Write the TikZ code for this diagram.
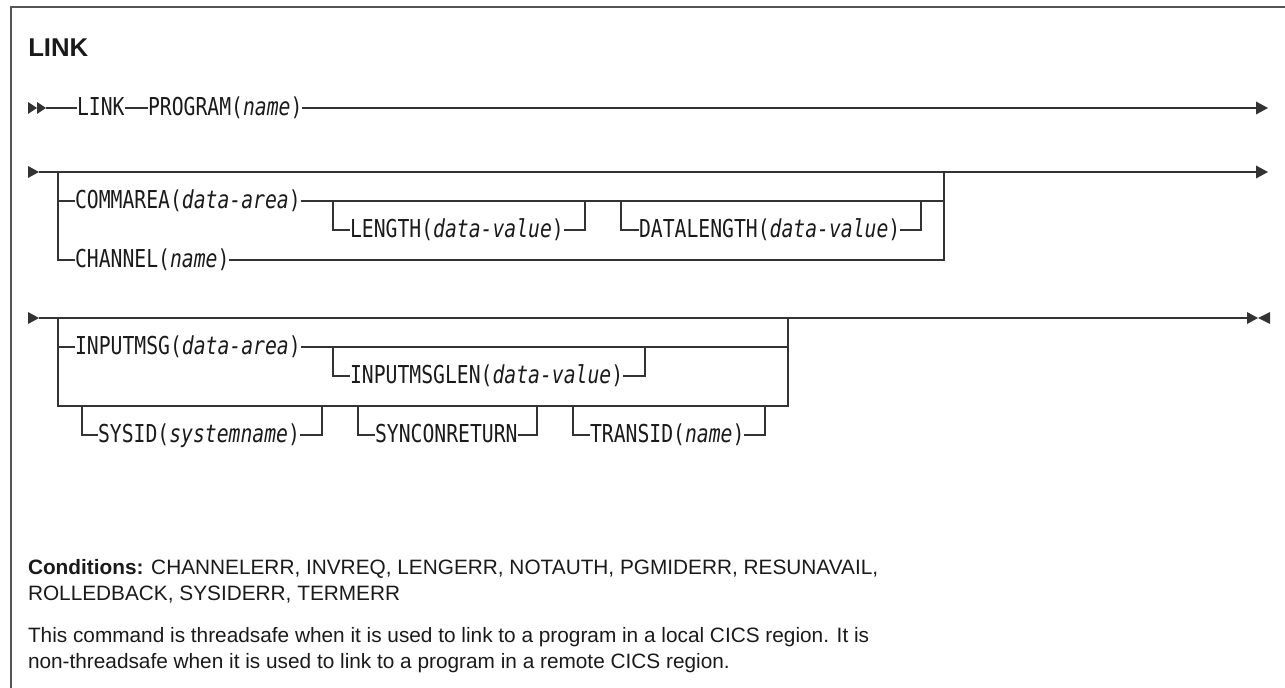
\documentclass[tikz,border=0pt]{standalone}
\usepackage{fontspec}
\setmainfont{Liberation Sans}
\newfontfamily\synfont[FakeStretch=0.80]{DejaVu Sans Mono}
\definecolor{lnc}{HTML}{333333}
\definecolor{txtc}{HTML}{1A1A1A}
\definecolor{framec}{HTML}{555555}
\begin{document}
\begin{tikzpicture}[x=0.75pt,y=-0.75pt,
  syn/.style={anchor=west,inner sep=0pt,outer sep=0pt,font=\synfont\fontsize{18.5}{20}\selectfont,text=txtc,text height=15.3pt,text depth=4.6pt},
  ln/.style={draw=lnc,line width=1.1pt},
  tri/.style={fill=lnc},
  body/.style={anchor=base west,inner sep=0pt,outer sep=0pt,align=left,text=txtc,font=\fontsize{15.6}{19.5}\selectfont}
  ]
\useasboundingbox (0,0) rectangle (1285,688);
% frame
\draw[draw=framec,line width=1.1pt] (11,688) -- (11,7) -- (1285,7);
% title
\node[anchor=base west,inner sep=0pt,text=txtc,font=\bfseries\fontsize{19.3}{21}\selectfont] (title) at (28,57) {LINK};

% ---------- row 1 ----------
\coordinate (r1a) at (28,108);
\coordinate (r1s) at (46,108);
\coordinate (r1e) at (1268,108);
\fill[tri] (r1a) ++(0,-6) -- ++(9,6) -- ++(-9,6) -- cycle;
\fill[tri] (r1a) ++(9,-6) -- ++(9,6) -- ++(-9,6) -- cycle;
\node[syn] (link) at (77,108) {LINK};
\node[syn] (prog) at (148,108) {PROGRAM(\textit{name})};
\draw[ln] (r1s) -- (link.west);
\draw[ln] (link.east) -- (prog.west);
\draw[ln] (prog.east) -- (1258,108);
\fill[tri] (r1e) -- ++(-12,-6.5) -- ++(0,13) -- cycle;

% ---------- row 2 ----------
\coordinate (r2a) at (28,172);
\coordinate (r2s) at (39,172);
\coordinate (r2e) at (1268,172);
\coordinate (b2l) at (58,172);
\coordinate (b2r) at (944,172);
\fill[tri] (r2a) ++(0,-6) -- ++(11,6) -- ++(-11,6) -- cycle;
\draw[ln] (r2s) -- (1258,172);
\fill[tri] (r2e) -- ++(-12,-6.5) -- ++(0,13) -- cycle;
\node[syn] (comm) at (75,201) {COMMAREA(\textit{data-area})};
\node[syn] (chan) at (75,260) {CHANNEL(\textit{name})};
\node[syn] (len) at (350,230) {LENGTH(\textit{data-value})};
\node[syn] (dlen) at (639,230) {DATALENGTH(\textit{data-value})};
\draw[ln] (b2l) |- (chan.west);
\draw[ln] (b2l |- comm.west) -- (comm.west);
\draw[ln] (comm.east) -- (b2r |- comm.east);
\draw[ln] (chan.east) -| (b2r);
\coordinate (lenL) at (333,201);
\coordinate (lenR) at (585,201);
\coordinate (dlL) at (621,201);
\coordinate (dlR) at (921,201);
\draw[ln] (lenL) |- (len.west);
\draw[ln] (len.east) -| (lenR);
\draw[ln] (dlL) |- (dlen.west);
\draw[ln] (dlen.east) -| (dlR);

% ---------- row 3 ----------
\coordinate (r3a) at (28,318);
\coordinate (r3s) at (39,318);
\coordinate (r3e) at (1258,318);
\coordinate (b3l) at (58,318);
\coordinate (b3r) at (788,318);
\coordinate (r3lowL) at (58,406);
\coordinate (r3lowR) at (788,406);
\fill[tri] (r3a) ++(0,-6) -- ++(11,6) -- ++(-11,6) -- cycle;
\draw[ln] (r3s) -- (1247,318);
\fill[tri] (r3e) -- ++(-11,-6) -- ++(0,12) -- cycle;
\fill[tri] (r3e) -- ++(12,-6) -- ++(0,12) -- cycle;
\node[syn] (inmsg) at (75,347) {INPUTMSG(\textit{data-area})};
\node[syn] (inlen) at (350,376) {INPUTMSGLEN(\textit{data-value})};
\node[syn] (sysid) at (98,435) {SYSID(\textit{systemname})};
\node[syn] (sync) at (375,435) {SYNCONRETURN};
\node[syn] (trans) at (590,435) {TRANSID(\textit{name})};
\draw[ln] (b3l) -- (r3lowL) -- (r3lowR) -- (b3r);
\draw[ln] (b3l |- inmsg.west) -- (inmsg.west);
\draw[ln] (inmsg.east) -- (b3r |- inmsg.east);
\coordinate (ilL) at (333,347);
\coordinate (ilR) at (645,347);
\draw[ln] (ilL) |- (inlen.west);
\draw[ln] (inlen.east) -| (ilR);
\coordinate (syL) at (82,406);
\coordinate (syR) at (322,406);
\coordinate (scL) at (358,406);
\coordinate (scR) at (537,406);
\coordinate (trL) at (573,406);
\coordinate (trR) at (765,406);
\draw[ln] (syL) |- (sysid.west);
\draw[ln] (sysid.east) -| (syR);
\draw[ln] (scL) |- (sync.west);
\draw[ln] (sync.east) -| (scR);
\draw[ln] (trL) |- (trans.west);
\draw[ln] (trans.east) -| (trR);

% ---------- text ----------
\node[body] (cond) at (28,600) {\textbf{Conditions:} CHANNELERR, INVREQ, LENGERR, NOTAUTH, PGMIDERR, RESUNAVAIL,\\ROLLEDBACK, SYSIDERR, TERMERR};
\node[body] (note) at (28,668) {This command is threadsafe when it is used to link to a program in a local CICS region. It is\\non-threadsafe when it is used to link to a program in a remote CICS region.};
\end{tikzpicture}
\end{document}
